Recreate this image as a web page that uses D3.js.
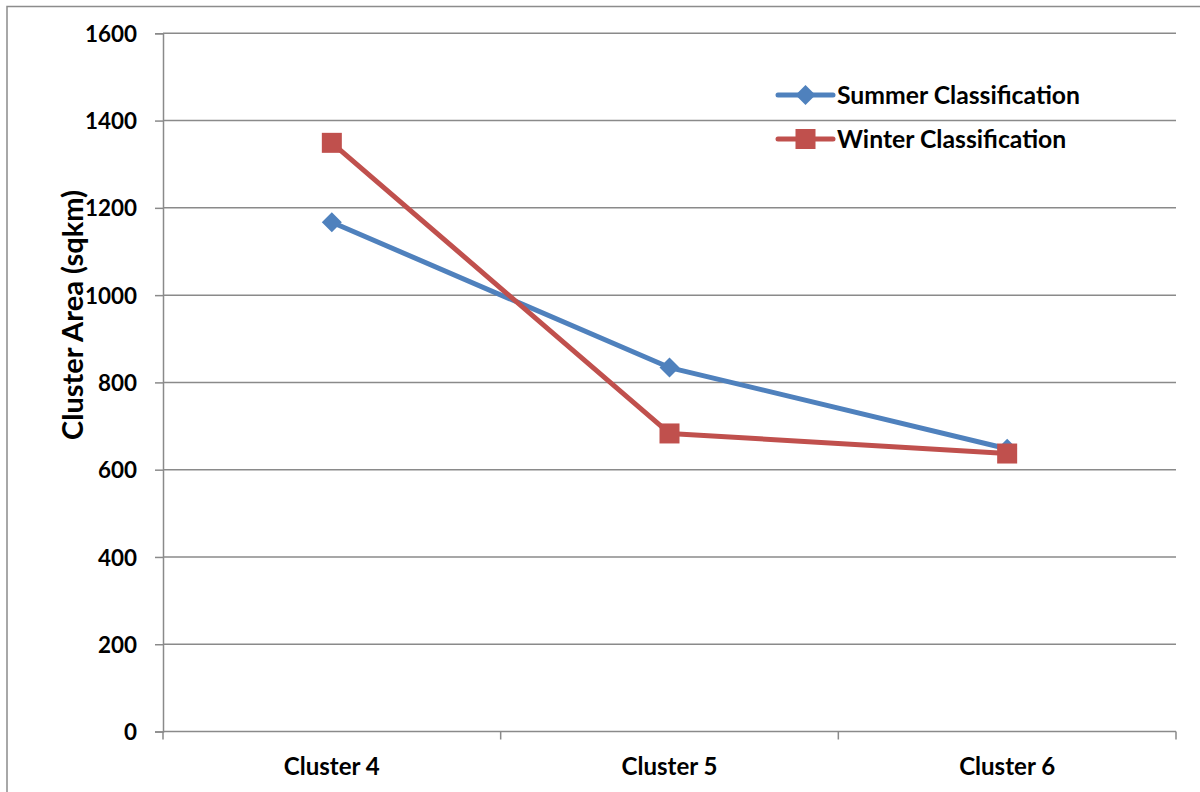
<!DOCTYPE html>
<html>
<head>
<meta charset="utf-8">
<script src="https://cdn.jsdelivr.net/npm/d3@7/dist/d3.min.js"></script>
<style>
  html, body { margin: 0; padding: 0; background: #fff; }
  svg { display: block; }
  text { font-family: Lato, "Open Sans", sans-serif; font-weight: bold; fill: #000; }
</style>
</head>
<body>
<svg id="chart" width="1200" height="792"></svg>
<script>
// Cluster areas (sq km) per classification
const categories = ["Cluster 4", "Cluster 5", "Cluster 6"];
const summerValues = [1167, 834, 648];
const winterValues = [1349, 683, 637];
const yTicks = [0, 200, 400, 600, 800, 1000, 1200, 1400, 1600];
const seriesNames = ["Summer Classification", "Winter Classification"];

const svg = d3.select("#chart");
const margin = { left: 163, right: 1176, top: 33.3, bottom: 731.5 };

// size a text element so that its rendered width equals the given width
function fitWidth(node, width) {
  const base = 20;
  node.setAttribute("font-size", base);
  const w = node.getComputedTextLength();
  node.setAttribute("font-size", (base * width / w).toFixed(2));
}

// outer frame
svg.append("rect")
  .attr("x", 7).attr("y", 6.5)
  .attr("width", 1200).attr("height", 800)
  .attr("fill", "none").attr("stroke", "#8c8c8c").attr("stroke-width", 1.5);

const x = d3.scaleBand().domain(categories).range([margin.left, margin.right]).padding(0);
const y = d3.scaleLinear().domain([0, 1600]).range([margin.bottom, margin.top]);

const gridColor = "#8a8a8a";

// horizontal gridlines
svg.append("g").selectAll("line").data(yTicks.filter(d => d > 0)).join("line")
  .attr("x1", margin.left).attr("x2", margin.right)
  .attr("y1", d => y(d)).attr("y2", d => y(d))
  .attr("stroke", gridColor).attr("stroke-width", 1.5);

// y axis
const yAxis = svg.append("g")
  .attr("transform", `translate(${margin.left},0)`)
  .call(d3.axisLeft(y).tickValues(yTicks).tickSize(8).tickPadding(18).tickFormat(d3.format("d")));
yAxis.select(".domain").attr("stroke", gridColor).attr("stroke-width", 1.5);
yAxis.selectAll(".tick line").attr("stroke", gridColor).attr("stroke-width", 1.5);
const tickText = yAxis.selectAll(".tick text")
  .attr("font-family", "Lato, sans-serif").attr("font-weight", "bold")
  .attr("fill", "#000").attr("dy", "0.36em");
// size tick labels from the widest one
const tickNode = yAxis.selectAll(".tick text").filter(d => d === 1600).node();
fitWidth(tickNode, 52);
tickText.attr("font-size", tickNode.getAttribute("font-size"));

// x axis with ticks at category boundaries
const xAxisG = svg.append("g").attr("transform", `translate(0,${margin.bottom})`);
xAxisG.append("line")
  .attr("x1", margin.left).attr("x2", margin.right)
  .attr("stroke", gridColor).attr("stroke-width", 1.5);
const boundaries = categories.map(c => x(c)).concat([x(categories[categories.length - 1]) + x.bandwidth()]);
xAxisG.selectAll(".bt").data(boundaries).join("line")
  .attr("x1", d => d).attr("x2", d => d)
  .attr("y1", 0).attr("y2", 8)
  .attr("stroke", gridColor).attr("stroke-width", 1.5);
const catLabels = xAxisG.selectAll(".cl").data(categories).join("text")
  .attr("x", d => x(d) + x.bandwidth() / 2)
  .attr("y", 43)
  .attr("text-anchor", "middle")
  .text(d => d);
fitWidth(catLabels.node(), 96);
catLabels.attr("font-size", catLabels.node().getAttribute("font-size"));

// y axis title
const yTitle = svg.append("text")
  .attr("transform", `translate(73,315) rotate(-90)`)
  .attr("text-anchor", "middle")
  .attr("dy", "0.36em")
  .text("Cluster Area (sqkm)");
fitWidth(yTitle.node(), 250);

const cx = d => x(d) + x.bandwidth() / 2;
const blue = "#4F81BD", red = "#C0504D";

const line = d3.line().x(d => cx(d.c)).y(d => y(d.v));
const summer = categories.map((c, i) => ({ c, v: summerValues[i] }));
const winter = categories.map((c, i) => ({ c, v: winterValues[i] }));

svg.append("path").datum(summer).attr("d", line)
  .attr("fill", "none").attr("stroke", blue).attr("stroke-width", 5).attr("stroke-linejoin", "round");
svg.append("path").datum(winter).attr("d", line)
  .attr("fill", "none").attr("stroke", red).attr("stroke-width", 5).attr("stroke-linejoin", "round");

const diamond = s => `M0,${-s}L${s},0L0,${s}L${-s},0Z`;
svg.append("g").selectAll("path").data(summer).join("path")
  .attr("d", diamond(10))
  .attr("transform", d => `translate(${cx(d.c)},${y(d.v)})`)
  .attr("fill", blue);
svg.append("g").selectAll("rect").data(winter).join("rect")
  .attr("x", d => cx(d.c) - 10).attr("y", d => y(d.v) - 10)
  .attr("width", 20).attr("height", 20)
  .attr("fill", red);

// legend
const legend = svg.append("g");
const legendRows = [
  { name: seriesNames[0], color: blue, marker: "diamond", y: 95 },
  { name: seriesNames[1], color: red, marker: "square", y: 139 }
];
let legendSize = null;
legendRows.forEach((r, i) => {
  legend.append("line")
    .attr("x1", 778).attr("x2", 833).attr("y1", r.y).attr("y2", r.y)
    .attr("stroke", r.color).attr("stroke-width", 5).attr("stroke-linecap", "round");
  if (r.marker === "diamond") {
    legend.append("path").attr("d", diamond(10))
      .attr("transform", `translate(805.5,${r.y})`).attr("fill", r.color);
  } else {
    legend.append("rect").attr("x", 795.5).attr("y", r.y - 10)
      .attr("width", 20).attr("height", 20).attr("fill", r.color);
  }
  const t = legend.append("text")
    .attr("x", 837).attr("y", r.y).attr("dy", "0.36em")
    .text(r.name);
  if (i === 0) { fitWidth(t.node(), 243); legendSize = t.attr("font-size"); }
  else t.attr("font-size", legendSize);
});
</script>
</body>
</html>
